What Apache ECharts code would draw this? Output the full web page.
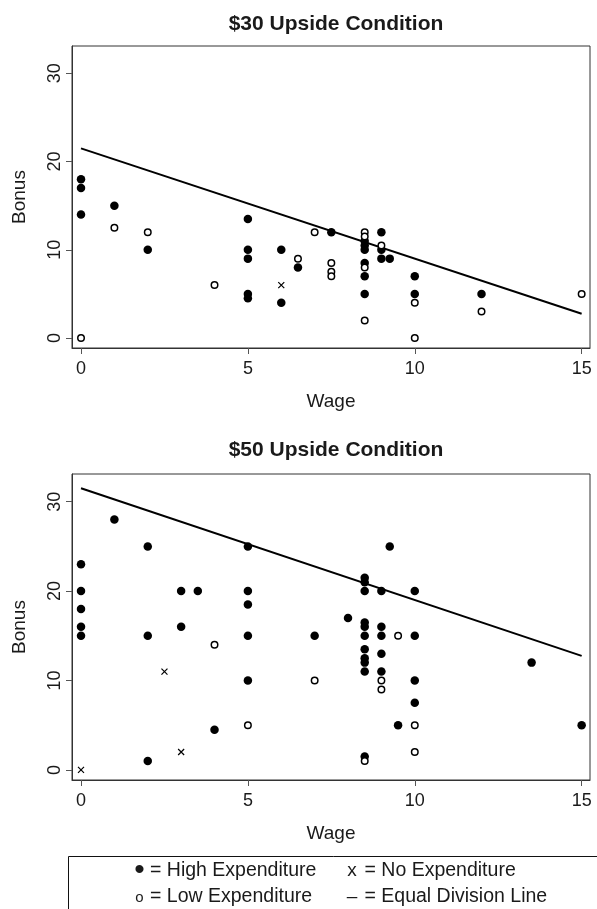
<!DOCTYPE html>
<html>
<head>
<meta charset="utf-8">
<script src="https://cdn.jsdelivr.net/npm/echarts@6/dist/echarts.min.js"></script>
<style>
html,body{margin:0;padding:0;background:#fff;}
#chart{width:597px;height:909px;}
</style>
</head>
<body>
<div id="chart"></div>
<script>
// ---- Data ----
const titles = ['$30 Upside Condition', '$50 Upside Condition'];
const xTicks = [0, 5, 10, 15];
const yTicks = [0, 10, 20, 30];

// $30 Upside Condition: [wage, bonus]
const highExp30 = [[0,18],[0,17],[0,14],[1,15],[2,10],[5,13.5],[5,10],[5,9],[5,5],[5,4.5],[6,10],[6,4],[6.5,8],
  [7.5,12],[8.5,11],[8.5,10.5],[8.5,10],[8.5,8.5],[8.5,7],[8.5,5],[9,12],[9,10],[9,9],[9.25,9],[10,7],[10,5],[12,5]];
const lowExp30 = [[0,0],[1,12.5],[2,12],[4,6],[6.5,9],[7,12],[7.5,8.5],[7.5,7.5],[7.5,7],[8.5,12],[8.5,11.5],
  [8.5,8],[8.5,2],[9,10.5],[10,4],[10,0],[12,3],[15,5]];
const noExp30 = [[6,6]];
const equalLine30 = [[0,21.5],[15,2.75]];

// $50 Upside Condition
const highExp50 = [[0,23],[0,20],[0,18],[0,16],[0,15],[1,28],[2,25],[2,15],[2,1],[3,20],[3,16],[3.5,20],[4,4.5],
  [5,25],[5,20],[5,18.5],[5,15],[5,10],[7,15],[8,17],[8.5,21.5],[8.5,21],[8.5,20],[8.5,16.5],[8.5,16],[8.5,15],
  [8.5,13.5],[8.5,12.5],[8.5,12],[8.5,11],[8.5,1.5],[9,20],[9,16],[9,15],[9,13],[9,11],[9.25,25],[9.5,5],
  [10,20],[10,15],[10,10],[10,7.5],[13.5,12],[15,5]];
const lowExp50 = [[4,14],[5,5],[7,10],[8.5,1],[9,10],[9,9],[9.5,15],[10,5],[10,2]];
const noExp50 = [[0,0],[2.5,11],[3,2]];
const equalLine50 = [[0,31.5],[15,12.75]];

const legendItems = [
  ['\u2022', '= High Expenditure'],
  ['x', '= No Expenditure'],
  ['o', '= Low Expenditure'],
  ['\u2013', '= Equal Division Line']
];

// ---- Chart ----
const FONT = '"Liberation Sans", Arial, Helvetica, sans-serif';
const TXT = '#1a1a1a';
const chart = echarts.init(document.getElementById('chart'), null, {renderer: 'canvas'});

function xAxis(idx) {
  return {
    type: 'value', gridIndex: idx, min: -0.27, max: 15.25,
    name: 'Wage', nameLocation: 'middle', nameGap: 44,
    nameTextStyle: {fontFamily: FONT, fontSize: 19, color: TXT},
    axisLine: {show: true, onZero: false, lineStyle: {color: '#333', width: 1}},
    axisTick: {show: true, length: 6, customValues: xTicks, lineStyle: {color: '#555', width: 1}},
    axisLabel: {customValues: xTicks, margin: 12, fontFamily: FONT, fontSize: 18, color: TXT},
    splitLine: {show: false}
  };
}
function yAxis(idx) {
  return {
    type: 'value', gridIndex: idx, min: -1.13, max: 33.1,
    name: 'Bonus', nameLocation: 'middle', nameGap: 43, nameRotate: 90,
    nameTextStyle: {fontFamily: FONT, fontSize: 19, color: TXT},
    axisLine: {show: true, onZero: false, lineStyle: {color: '#333', width: 1}},
    axisTick: {show: true, length: 6, customValues: yTicks, lineStyle: {color: '#555', width: 1}},
    axisLabel: {customValues: yTicks, rotate: 90, margin: 8, fontFamily: FONT, fontSize: 18, color: TXT},
    splitLine: {show: false}
  };
}
function seriesFor(idx, high, low, none, line) {
  return [
    {type: 'line', xAxisIndex: idx, yAxisIndex: idx, data: line, symbol: 'none',
     lineStyle: {color: '#000', width: 2}, z: 2},
    {type: 'scatter', xAxisIndex: idx, yAxisIndex: idx, data: high, symbol: 'circle', symbolSize: 8.5,
     itemStyle: {color: '#000', opacity: 1}, z: 3},
    {type: 'scatter', xAxisIndex: idx, yAxisIndex: idx, data: low, symbol: 'circle', symbolSize: 6.5,
     itemStyle: {color: '#fff', borderColor: '#000', borderWidth: 1.5, opacity: 1}, z: 4},
    {type: 'scatter', xAxisIndex: idx, yAxisIndex: idx, data: none, symbol: 'path://M0,0L10,10M10,0L0,10',
     symbolSize: 6, itemStyle: {color: 'rgba(0,0,0,0)', borderColor: '#000', borderWidth: 1.2, opacity: 1}, z: 4}
  ];
}

const legendGraphics = [
  {type: 'rect', shape: {x: 68.5, y: 856.5, width: 540, height: 80}, style: {fill: 'none', stroke: '#111', lineWidth: 1}}
];
const colSym = [139.5, 352];
const colTxt = [150, 364.5];
const rowY = [870.5, 897];
legendItems.forEach((it, i) => {
  const c = i % 2, r = Math.floor(i / 2);
  let symSize = 19, dy = 0;
  if (it[0] === '\u2022') { symSize = 30; dy = 0; }
  if (it[0] === 'o') { symSize = 15; dy = 1; }
  legendGraphics.push({type: 'text', style: {text: it[0], x: colSym[c], y: rowY[r] + dy, align: 'center', verticalAlign: 'middle',
    font: symSize + 'px ' + FONT, fill: TXT}});
  legendGraphics.push({type: 'text', style: {text: it[1], x: colTxt[c], y: rowY[r], align: 'left', verticalAlign: 'middle',
    font: '19.5px ' + FONT, fill: TXT}});
});

chart.setOption({
  animation: false,
  backgroundColor: '#fff',
  title: [
    {text: titles[0], left: 331, top: 9, textAlign: 'center',
     textStyle: {fontFamily: FONT, fontSize: 21, fontWeight: 'bold', color: TXT}},
    {text: titles[1], left: 331, top: 435, textAlign: 'center',
     textStyle: {fontFamily: FONT, fontSize: 21, fontWeight: 'bold', color: TXT}}
  ],
  grid: [
    {left: 72, right: 7, top: 46, height: 302, show: true, borderColor: '#333', borderWidth: 1, backgroundColor: '#fff'},
    {left: 72, right: 7, top: 474, height: 306, show: true, borderColor: '#333', borderWidth: 1, backgroundColor: '#fff'}
  ],
  xAxis: [xAxis(0), xAxis(1)],
  yAxis: [yAxis(0), yAxis(1)],
  series: [].concat(
    seriesFor(0, highExp30, lowExp30, noExp30, equalLine30),
    seriesFor(1, highExp50, lowExp50, noExp50, equalLine50)
  ),
  graphic: legendGraphics
});
</script>
</body>
</html>
